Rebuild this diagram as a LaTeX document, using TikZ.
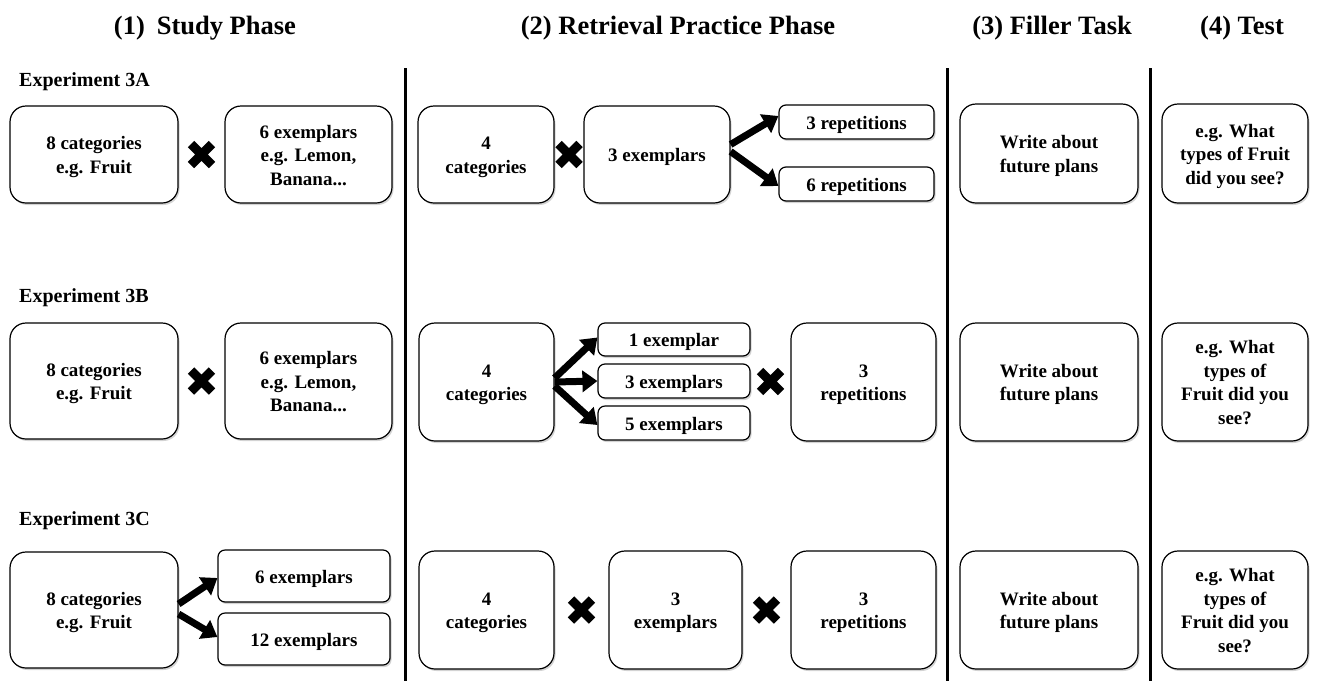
\documentclass[tikz,border=0pt]{standalone}
\usepackage{fontspec}
\setmainfont{Liberation Serif}
\usetikzlibrary{arrows.meta,shadows,calc}
\tikzset{
  box/.style={draw, line width=1.2pt, rounded corners=16pt, fill=white, align=center,
    font=\bfseries\fontsize{19}{23.5}\selectfont, inner sep=0pt,
    drop shadow={shadow xshift=1.5pt, shadow yshift=-2pt, opacity=0.35, fill=gray}},
  sbox/.style={box, rounded corners=7pt},
  hdr/.style={font=\bfseries\fontsize{26.5}{30}\selectfont},
  explabel/.style={font=\bfseries\fontsize{20}{24}\selectfont, anchor=west, inner sep=0pt},
  bigarrow/.style={line width=7pt, -{Triangle[length=15pt,width=21pt]}},
  divider/.style={line width=3pt},
  xmark/.pic={\draw[line width=9pt] (-10.5,-10.5) -- (10.5,10.5) (-10.5,10.5) -- (10.5,-10.5);}
}
\newcommand\bx[7]{\node[#1, minimum width={(#5-#3)*1pt}, minimum height={(#6-#4)*1pt}] (#2) at ({(#3+#5)/2},{(#4+#6)/2}) {\raisebox{-2.5pt}[\height][\depth]{\begin{tabular}{@{}c@{}}#7\end{tabular}}};}
\begin{document}
\begin{tikzpicture}[x=1pt,y=-1pt]
\useasboundingbox (0,0) rectangle (1322,681);
% headers
\node[hdr] (h1) at (205,28) {(1)\hspace{12pt}Study Phase};
\node[hdr] (h2) at (678,28) {(2) Retrieval Practice Phase};
\node[hdr] (h3) at (1052,28) {(3) Filler Task};
\node[hdr] (h4) at (1242,28) {(4) Test};
% dividers
\draw[divider] (405,68) -- (405,681);
\draw[divider] (947,68) -- (947,681);
\draw[divider] (1150,68) -- (1150,681);
% experiment labels
\node[explabel] (eA) at (19,82) {Experiment 3A};
\node[explabel] (eB) at (19,298) {Experiment 3B};
\node[explabel] (eC) at (19,521) {Experiment 3C};
% ---------- Row A ----------
\bx{box}{a1}{10}{106}{178}{203}{8 categories\\e.g. Fruit}
\bx{box}{a2}{225}{106}{392}{203}{6 exemplars\\e.g. Lemon,\\Banana...}
\bx{box}{a3}{418}{106}{554}{203}{4\\categories}
\bx{box}{a4}{584}{106}{730}{203}{3 exemplars}
\bx{sbox}{a5}{779}{105}{934}{139}{3 repetitions}
\bx{sbox}{a6}{779}{167}{934}{201}{6 repetitions}
\bx{box}{a7}{960}{104}{1138}{203}{Write about\\future plans}
\bx{box}{a8}{1162}{104}{1308}{203}{e.g. What\\types of Fruit\\did you see?}
\pic at ($(a1.east)!0.5!(a2.west)$) {xmark};
\pic at ($(a3.east)!0.5!(a4.west)$) {xmark};
\draw[bigarrow] ([yshift=10pt]a4.east) -- ([yshift=6pt]a5.west);
\draw[bigarrow] ([yshift=3pt]a4.east) -- ([yshift=-2pt]a6.west);
% ---------- Row B ----------
\bx{box}{b1}{10}{323}{178}{439}{8 categories\\e.g. Fruit}
\bx{box}{b2}{225}{323}{392}{439}{6 exemplars\\e.g. Lemon,\\Banana...}
\bx{box}{b3}{419}{323}{554}{441}{4\\categories}
\bx{sbox}{b4}{598}{323}{750}{356}{1 exemplar}
\bx{sbox}{b5}{598}{364}{750}{398}{3 exemplars}
\bx{sbox}{b6}{598}{406}{750}{440}{5 exemplars}
\bx{box}{b7}{791}{323}{936}{441}{3\\repetitions}
\bx{box}{b8}{960}{323}{1138}{441}{Write about\\future plans}
\bx{box}{b9}{1162}{323}{1308}{441}{e.g. What\\types of\\Fruit did you\\see?}
\pic at ($(b1.east)!0.5!(b2.west)$) {xmark};
\pic at ($(b5.east)!0.5!(b7.west)$) {xmark};
\draw[bigarrow] ([yshift=4pt]b3.east) -- ([yshift=2pt]b4.west);
\draw[bigarrow] (b3.east) -- (b5.west);
\draw[bigarrow] ([yshift=-4pt]b3.east) -- ([yshift=-2pt]b6.west);
% ---------- Row C ----------
\bx{box}{c1}{10}{552}{178}{668}{8 categories\\e.g. Fruit}
\bx{sbox}{c2}{218}{550}{390}{602}{6 exemplars}
\bx{sbox}{c3}{218}{613}{390}{665}{12 exemplars}
\bx{box}{c4}{419}{551}{554}{669}{4\\categories}
\bx{box}{c5}{609}{551}{742}{669}{3\\exemplars}
\bx{box}{c6}{791}{551}{936}{669}{3\\repetitions}
\bx{box}{c7}{960}{551}{1138}{669}{Write about\\future plans}
\bx{box}{c8}{1162}{551}{1308}{669}{e.g. What\\types of\\Fruit did you\\see?}
\draw[bigarrow] ([yshift=6pt]c1.east) -- ([yshift=-2pt]c2.west);
\draw[bigarrow] ([yshift=-4pt]c1.east) -- ([yshift=2pt]c3.west);
\pic at ($(c4.east)!0.5!(c5.west)$) {xmark};
\pic at ($(c5.east)!0.5!(c6.west)$) {xmark};
\end{tikzpicture}
\end{document}
